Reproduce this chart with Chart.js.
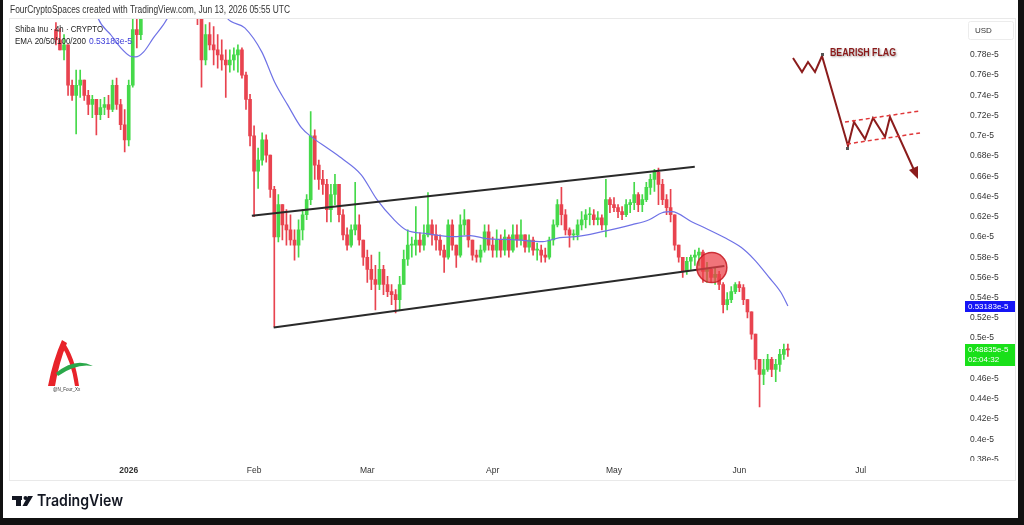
<!DOCTYPE html>
<html>
<head>
<meta charset="utf-8">
<script src="https://cdn.jsdelivr.net/npm/chart.js@4.4.1/dist/chart.umd.min.js"></script>
<style>
  html, body { margin: 0; padding: 0; background: #fff; }
  canvas { display: block; }
</style>
</head>
<body>
<canvas id="chart" width="1024" height="525"></canvas>
<script>
// ──────────────────────────────────────────────
//  Data (prices in units of e-5, days counted from Jan 1 2026)
// ──────────────────────────────────────────────

const FIRST_DAY = -18;
const FIRST_OPEN = 0.805;

const closes = [
  0.795, 0.785, 0.790, 0.750, 0.740, 0.750, 0.755, 0.740, 0.731, 0.736,
  0.721, 0.728, 0.731, 0.726, 0.750, 0.731, 0.711, 0.696, 0.750, 0.805,
  0.800, 0.835, 0.850, 0.860, 0.870, 0.880, 0.890, 0.880, 0.870, 0.860,
  0.870, 0.860, 0.850, 0.845, 0.840, 0.820, 0.775, 0.800, 0.790, 0.785,
  0.780, 0.775, 0.770, 0.775, 0.780, 0.785, 0.760, 0.736, 0.700, 0.665,
  0.676, 0.696, 0.681, 0.647, 0.600, 0.632, 0.612, 0.607, 0.597, 0.592,
  0.607, 0.622, 0.637, 0.700, 0.671, 0.657, 0.652, 0.627, 0.642, 0.652,
  0.622, 0.602, 0.592, 0.607, 0.612, 0.597, 0.580, 0.568, 0.558, 0.553,
  0.568, 0.553, 0.546, 0.543, 0.538, 0.553, 0.578, 0.592, 0.592, 0.597,
  0.592, 0.602, 0.612, 0.602, 0.597, 0.587, 0.580, 0.612, 0.592, 0.582,
  0.612, 0.617, 0.597, 0.582, 0.580, 0.587, 0.605, 0.592, 0.587, 0.597,
  0.587, 0.600, 0.587, 0.602, 0.597, 0.602, 0.590, 0.597, 0.587, 0.587,
  0.582, 0.580, 0.597, 0.612, 0.632, 0.622, 0.607, 0.602, 0.602, 0.612,
  0.617, 0.622, 0.622, 0.617, 0.619, 0.612, 0.637, 0.632, 0.629, 0.625,
  0.622, 0.632, 0.634, 0.642, 0.632, 0.637, 0.649, 0.657, 0.664, 0.652,
  0.637, 0.629, 0.622, 0.592, 0.580, 0.566, 0.576, 0.580, 0.582, 0.585,
  0.566, 0.568, 0.560, 0.563, 0.553, 0.533, 0.538, 0.546, 0.553, 0.550,
  0.538, 0.526, 0.504, 0.479, 0.464, 0.469, 0.479, 0.469, 0.474, 0.484,
  0.489, 0.48835
];

const highs = [
  0.812, 0.806, 0.800, 0.790, 0.755, 0.765, 0.765, 0.755, 0.745, 0.740,
  0.736, 0.736, 0.738, 0.740, 0.755, 0.757, 0.736, 0.726, 0.755, 0.816,
  0.830, 0.845, 0.860, 0.870, 0.880, 0.890, 0.900, 0.900, 0.890, 0.880,
  0.880, 0.880, 0.870, 0.860, 0.860, 0.850, 0.825, 0.810, 0.812, 0.808,
  0.800, 0.795, 0.785, 0.785, 0.787, 0.790, 0.787, 0.763, 0.741, 0.710,
  0.688, 0.703, 0.701, 0.681, 0.650, 0.642, 0.632, 0.627, 0.622, 0.607,
  0.617, 0.627, 0.642, 0.724, 0.706, 0.676, 0.666, 0.657, 0.652, 0.662,
  0.652, 0.627, 0.609, 0.612, 0.654, 0.622, 0.597, 0.587, 0.582, 0.572,
  0.585, 0.572, 0.561, 0.553, 0.548, 0.561, 0.587, 0.607, 0.600, 0.630,
  0.604, 0.612, 0.644, 0.617, 0.612, 0.602, 0.592, 0.617, 0.617, 0.592,
  0.622, 0.627, 0.617, 0.597, 0.587, 0.592, 0.612, 0.612, 0.600, 0.607,
  0.602, 0.607, 0.602, 0.612, 0.612, 0.617, 0.602, 0.602, 0.600, 0.594,
  0.592, 0.589, 0.600, 0.617, 0.637, 0.649, 0.627, 0.609, 0.607, 0.617,
  0.625, 0.627, 0.629, 0.627, 0.625, 0.622, 0.657, 0.639, 0.639, 0.632,
  0.630, 0.637, 0.637, 0.654, 0.644, 0.642, 0.654, 0.662, 0.667, 0.668,
  0.657, 0.642, 0.647, 0.622, 0.592, 0.580, 0.580, 0.582, 0.587, 0.589,
  0.587, 0.575, 0.570, 0.570, 0.566, 0.555, 0.545, 0.551, 0.555, 0.556,
  0.553, 0.538, 0.526, 0.504, 0.479, 0.479, 0.484, 0.481, 0.479, 0.489,
  0.494, 0.494
];

const lows = [
  0.790, 0.785, 0.775, 0.740, 0.735, 0.702, 0.738, 0.735, 0.721, 0.718,
  0.701, 0.716, 0.721, 0.718, 0.724, 0.726, 0.706, 0.684, 0.690, 0.748,
  0.787, 0.795, 0.830, 0.840, 0.850, 0.860, 0.870, 0.870, 0.860, 0.850,
  0.850, 0.850, 0.840, 0.830, 0.830, 0.810, 0.748, 0.770, 0.785, 0.770,
  0.767, 0.765, 0.738, 0.763, 0.765, 0.763, 0.757, 0.726, 0.690, 0.620,
  0.648, 0.671, 0.674, 0.639, 0.511, 0.595, 0.597, 0.592, 0.592, 0.577,
  0.580, 0.597, 0.617, 0.632, 0.657, 0.647, 0.642, 0.615, 0.615, 0.632,
  0.615, 0.597, 0.587, 0.590, 0.602, 0.592, 0.572, 0.555, 0.548, 0.528,
  0.548, 0.543, 0.541, 0.533, 0.525, 0.528, 0.553, 0.572, 0.580, 0.582,
  0.585, 0.587, 0.600, 0.592, 0.587, 0.582, 0.565, 0.578, 0.587, 0.570,
  0.580, 0.602, 0.590, 0.577, 0.575, 0.575, 0.585, 0.587, 0.580, 0.580,
  0.580, 0.582, 0.580, 0.585, 0.590, 0.592, 0.585, 0.585, 0.582, 0.577,
  0.575, 0.575, 0.578, 0.592, 0.610, 0.612, 0.602, 0.590, 0.597, 0.597,
  0.607, 0.609, 0.612, 0.612, 0.612, 0.607, 0.600, 0.624, 0.625, 0.619,
  0.617, 0.620, 0.624, 0.627, 0.625, 0.625, 0.635, 0.642, 0.645, 0.632,
  0.632, 0.622, 0.615, 0.587, 0.575, 0.560, 0.563, 0.568, 0.572, 0.572,
  0.555, 0.555, 0.555, 0.553, 0.548, 0.525, 0.528, 0.535, 0.544, 0.546,
  0.533, 0.520, 0.499, 0.469, 0.432, 0.454, 0.467, 0.462, 0.457, 0.467,
  0.479, 0.482
];

// EMA curve (day, value)
const emaDays = [
  -10.6, -7.6, -4.4, -1.96, 0.25, 1.72, 3.7, 6.1, 9.6, 12, 19, 22.6,
  24.3, 28.7, 32.9, 36.1, 39.3, 42.7, 45.2, 49.1, 52.6, 57.5, 61.4, 65.6,
  68.5, 73.7, 80.3, 84.5, 88.4, 95.0, 102.4, 106.6, 110.5, 117.1, 124.5,
  128.7, 131.9, 134.3, 139.2, 143.4, 147.3, 151.5, 154.7, 158.2, 161.3, 163
];
const emaValues = [
  0.86, 0.8165, 0.7997, 0.7869, 0.779, 0.778, 0.783, 0.7968, 0.8165, 0.84, 0.86, 0.83,
  0.8165, 0.8067, 0.783, 0.753, 0.7306, 0.708, 0.699, 0.688, 0.678, 0.6615, 0.6369, 0.6171,
  0.6072, 0.6033, 0.6003, 0.6013, 0.5984, 0.5974, 0.5954, 0.5994, 0.6003, 0.6053, 0.6122,
  0.6171, 0.6240, 0.6250, 0.6151, 0.6072, 0.5994, 0.5895, 0.5776, 0.5608, 0.5451, 0.53183
];

// channel lines drawn on the chart
const upperChannelDays = [30.45, 139.98];
const upperChannelValues = [0.6211, 0.6694];
const lowerChannelDays = [35.85, 147.3];
const lowerChannelValues = [0.5105, 0.5712];

// breakdown marker
const breakDay = 144.2;
const breakValue = 0.5697;

const monthDays = [0, 31, 59, 90, 120, 151, 181];
const monthLabels = ['2026', 'Feb', 'Mar', 'Apr', 'May', 'Jun', 'Jul'];
const priceTicks = [0.38, 0.4, 0.42, 0.44, 0.46, 0.48, 0.5, 0.52, 0.54, 0.56, 0.58,
  0.6, 0.62, 0.64, 0.66, 0.68, 0.7, 0.72, 0.74, 0.76, 0.78];

const EMA_LAST = 0.53183;
const PRICE_LAST = 0.48835;
const COUNTDOWN = '02:04:32';

// ──────────────────────────────────────────────
//  Styles
// ──────────────────────────────────────────────

const UP = '#45d94a';
const DOWN = '#e8434f';
const FONT = '"Liberation Sans", Arial, sans-serif';

const opens = closes.map((c, i) => (i === 0 ? FIRST_OPEN : closes[i - 1]));
const days = closes.map((_, i) => FIRST_DAY + i);
const candleColors = closes.map((c, i) => (c >= opens[i] ? UP : DOWN));

// ──────────────────────────────────────────────
//  Overlay: header, legend, price badges, drawings
// ──────────────────────────────────────────────

function drawFlag(ctx) {
  ctx.save();
  ctx.strokeStyle = '#8b1c1c';
  ctx.lineWidth = 2;
  ctx.lineJoin = 'miter';
  ctx.beginPath();
  ctx.moveTo(793, 58);
  ctx.lineTo(802, 72);
  ctx.lineTo(808, 62);
  ctx.lineTo(815, 72);
  ctx.lineTo(822, 56);
  ctx.lineTo(848, 146);
  ctx.lineTo(854, 122);
  ctx.lineTo(865, 139);
  ctx.lineTo(873, 118);
  ctx.lineTo(885, 137);
  ctx.lineTo(890, 117);
  ctx.lineTo(914, 170);
  ctx.stroke();
  // arrow head
  ctx.fillStyle = '#8b1c1c';
  ctx.beginPath();
  ctx.moveTo(918, 179);
  ctx.lineTo(909, 170);
  ctx.lineTo(918, 166);
  ctx.closePath();
  ctx.fill();
  // dashed flag borders
  ctx.strokeStyle = '#e0383a';
  ctx.lineWidth = 1.5;
  ctx.setLineDash([4, 3]);
  ctx.beginPath();
  ctx.moveTo(845, 122); ctx.lineTo(920, 111);
  ctx.moveTo(847, 144); ctx.lineTo(920, 133);
  ctx.stroke();
  ctx.setLineDash([]);
  // small handles
  ctx.fillStyle = '#555';
  ctx.fillRect(821, 53, 3, 3);
  ctx.fillRect(846, 147, 3, 3);
  // title
  ctx.shadowColor = 'rgba(0,0,0,0.35)';
  ctx.shadowBlur = 2;
  ctx.shadowOffsetX = 1;
  ctx.shadowOffsetY = 1;
  ctx.fillStyle = '#8b1a1a';
  ctx.font = `bold 10.5px ${FONT}`;
  ctx.textBaseline = 'middle';
  ctx.fillText('BEARISH FLAG', 830, 53, 66);
  ctx.restore();
}

function drawLogo(ctx) {
  ctx.save();
  ctx.fillStyle = '#e8232a';
  ctx.beginPath();
  ctx.moveTo(48, 386);
  ctx.quadraticCurveTo(53, 360, 62, 340);
  ctx.lineTo(67, 343);
  ctx.quadraticCurveTo(59, 362, 55, 386);
  ctx.closePath();
  ctx.fill();
  ctx.beginPath();
  ctx.moveTo(63, 341);
  ctx.quadraticCurveTo(75, 356, 79, 386);
  ctx.lineTo(75, 386);
  ctx.quadraticCurveTo(71, 360, 61, 345);
  ctx.closePath();
  ctx.fill();
  ctx.fillStyle = '#2aa84a';
  ctx.beginPath();
  ctx.moveTo(56, 373);
  ctx.quadraticCurveTo(75, 357, 93, 366);
  ctx.quadraticCurveTo(76, 363, 58, 376);
  ctx.closePath();
  ctx.fill();
  ctx.fillStyle = '#333';
  ctx.font = `4.5px ${FONT}`;
  ctx.textBaseline = 'middle';
  ctx.fillText('@N_Four_Xx', 53, 390);
  ctx.restore();
}

function drawBrand(ctx) {
  ctx.save();
  ctx.fillStyle = '#131722';
  ctx.fillRect(12, 496, 10, 4);
  ctx.fillRect(16, 496, 5, 10);
  ctx.beginPath();
  ctx.arc(25.5, 498, 2, 0, Math.PI * 2);
  ctx.fill();
  ctx.beginPath();
  ctx.moveTo(28, 496);
  ctx.lineTo(33, 496);
  ctx.lineTo(27, 506);
  ctx.lineTo(22.5, 506);
  ctx.closePath();
  ctx.fill();
  ctx.font = `600 16px Inter, ${FONT}`;
  ctx.textBaseline = 'middle';
  ctx.fillText('TradingView', 37, 501, 86);
  ctx.restore();
}

function drawBadge(ctx, y, h, color, lines) {
  ctx.fillStyle = color;
  ctx.fillRect(965, y, 50, h);
  ctx.fillStyle = '#fff';
  ctx.font = `8px ${FONT}`;
  ctx.textBaseline = 'middle';
  lines.forEach((t, i) => ctx.fillText(t, 968, y + 5.5 + i * 10, 46));
}

const overlay = {
  id: 'overlay',
  beforeDraw(chart) {
    const ctx = chart.ctx;
    ctx.save();
    ctx.fillStyle = '#fff';
    ctx.fillRect(0, 0, chart.width, chart.height);
    ctx.restore();
  },
  afterDraw(chart) {
    const ctx = chart.ctx;
    const yScale = chart.scales.y;
    ctx.save();

    // panel outline
    ctx.strokeStyle = '#e9e9e9';
    ctx.lineWidth = 1;
    ctx.strokeRect(9.5, 18.5, 1006, 462);

    // cut the lowest price label like the reference
    ctx.fillStyle = '#fff';
    ctx.fillRect(966, 461, 48, 6);

    // header
    ctx.fillStyle = '#333';
    ctx.font = `10px ${FONT}`;
    ctx.textBaseline = 'middle';
    ctx.fillText('FourCryptoSpaces created with TradingView.com, Jun 13, 2026 05:55 UTC', 10, 10, 280);

    // legend
    ctx.fillStyle = '#222';
    ctx.font = `9px ${FONT}`;
    ctx.fillText('Shiba Inu · 4h · CRYPTO', 15, 30, 88);
    ctx.fillText('EMA 20/50/100/200', 15, 42, 71);
    ctx.fillStyle = '#3b3bd8';
    ctx.fillText(EMA_LAST + 'e-5', 89, 42, 43);

    // USD box
    ctx.fillStyle = '#fff';
    ctx.strokeStyle = '#ececec';
    ctx.beginPath();
    ctx.roundRect(968.5, 21.5, 45, 18, 2);
    ctx.fill();
    ctx.stroke();
    ctx.fillStyle = '#333';
    ctx.font = `8px ${FONT}`;
    ctx.fillText('USD', 975, 31);

    // price badges
    const yEma = yScale.getPixelForValue(EMA_LAST);
    drawBadge(ctx, Math.round(yEma) - 5, 11, '#1515f5', [EMA_LAST + 'e-5']);
    const yLast = yScale.getPixelForValue(PRICE_LAST);
    drawBadge(ctx, Math.round(yLast) - 6, 22, '#19e019', [PRICE_LAST + 'e-5', COUNTDOWN]);

    drawFlag(ctx);
    drawLogo(ctx);
    drawBrand(ctx);

    // dark frame
    ctx.fillStyle = '#111';
    ctx.fillRect(0, 0, 3, 525);
    ctx.fillRect(1018, 0, 6, 525);
    ctx.fillRect(0, 518, 1024, 7);
    ctx.restore();
  },
};

// ──────────────────────────────────────────────
//  Chart
// ──────────────────────────────────────────────

new Chart(document.getElementById('chart'), {
  type: 'bar',
  data: {
    datasets: [
      {
        type: 'bubble',
        data: [{ x: breakDay, y: breakValue, r: 15 }],
        backgroundColor: 'rgba(236, 62, 70, 0.72)',
        borderColor: 'rgba(200, 32, 40, 0.9)',
        borderWidth: 1.5,
        order: 0,
      },
      {
        type: 'line',
        data: upperChannelDays.map((d, i) => ({ x: d, y: upperChannelValues[i] })),
        borderColor: '#2a2a2a',
        borderWidth: 2,
        pointRadius: 0,
        order: 1,
        clip: 0,
      },
      {
        type: 'line',
        data: lowerChannelDays.map((d, i) => ({ x: d, y: lowerChannelValues[i] })),
        borderColor: '#2a2a2a',
        borderWidth: 2,
        pointRadius: 0,
        order: 1,
        clip: 0,
      },
      {
        type: 'line',
        data: emaDays.map((d, i) => ({ x: d, y: emaValues[i] })),
        borderColor: '#6f72e6',
        borderWidth: 1.2,
        pointRadius: 0,
        cubicInterpolationMode: 'monotone',
        order: 1,
        clip: 0,
      },
      {
        data: days.map((d, i) => ({ x: d, y: [opens[i], closes[i]] })),
        backgroundColor: candleColors,
        barThickness: 3,
        minBarLength: 1,
        grouped: false,
        order: 2,
        clip: 0,
      },
      {
        data: days.map((d, i) => ({ x: d, y: [lows[i], highs[i]] })),
        backgroundColor: candleColors,
        barThickness: 1,
        grouped: false,
        order: 3,
        clip: 0,
      },
    ],
  },
  options: {
    responsive: false,
    animation: false,
    devicePixelRatio: 1,
    layout: { padding: { left: 10, right: 9, top: 18, bottom: 43 } },
    plugins: { legend: { display: false }, tooltip: { enabled: false } },
    scales: {
      x: {
        type: 'linear',
        min: -27.75,
        max: 206.8,
        offset: false,
        grid: { display: false, drawTicks: false },
        border: { display: false },
        afterBuildTicks: (s) => { s.ticks = monthDays.map((v) => ({ value: v })); },
        afterFit: (s) => { s.height = 22; },
        ticks: {
          autoSkip: false,
          maxRotation: 0,
          padding: 6,
          color: '#333',
          font: (c) => ({ family: FONT, size: 8.5, weight: c.index === 0 ? 'bold' : 'normal' }),
          callback: (v, i) => monthLabels[i],
        },
      },
      y: {
        position: 'right',
        min: 0.3795,
        max: 0.8165,
        grid: { display: false, drawTicks: false },
        border: { display: false },
        afterBuildTicks: (s) => { s.ticks = priceTicks.map((v) => ({ value: v })); },
        afterFit: (s) => { s.width = 50; },
        ticks: {
          autoSkip: false,
          padding: 5,
          color: '#333',
          font: { family: FONT, size: 8.5 },
          callback: (v) => v + 'e-5',
        },
      },
    },
  },
  plugins: [overlay],
});
</script>
</body>
</html>
